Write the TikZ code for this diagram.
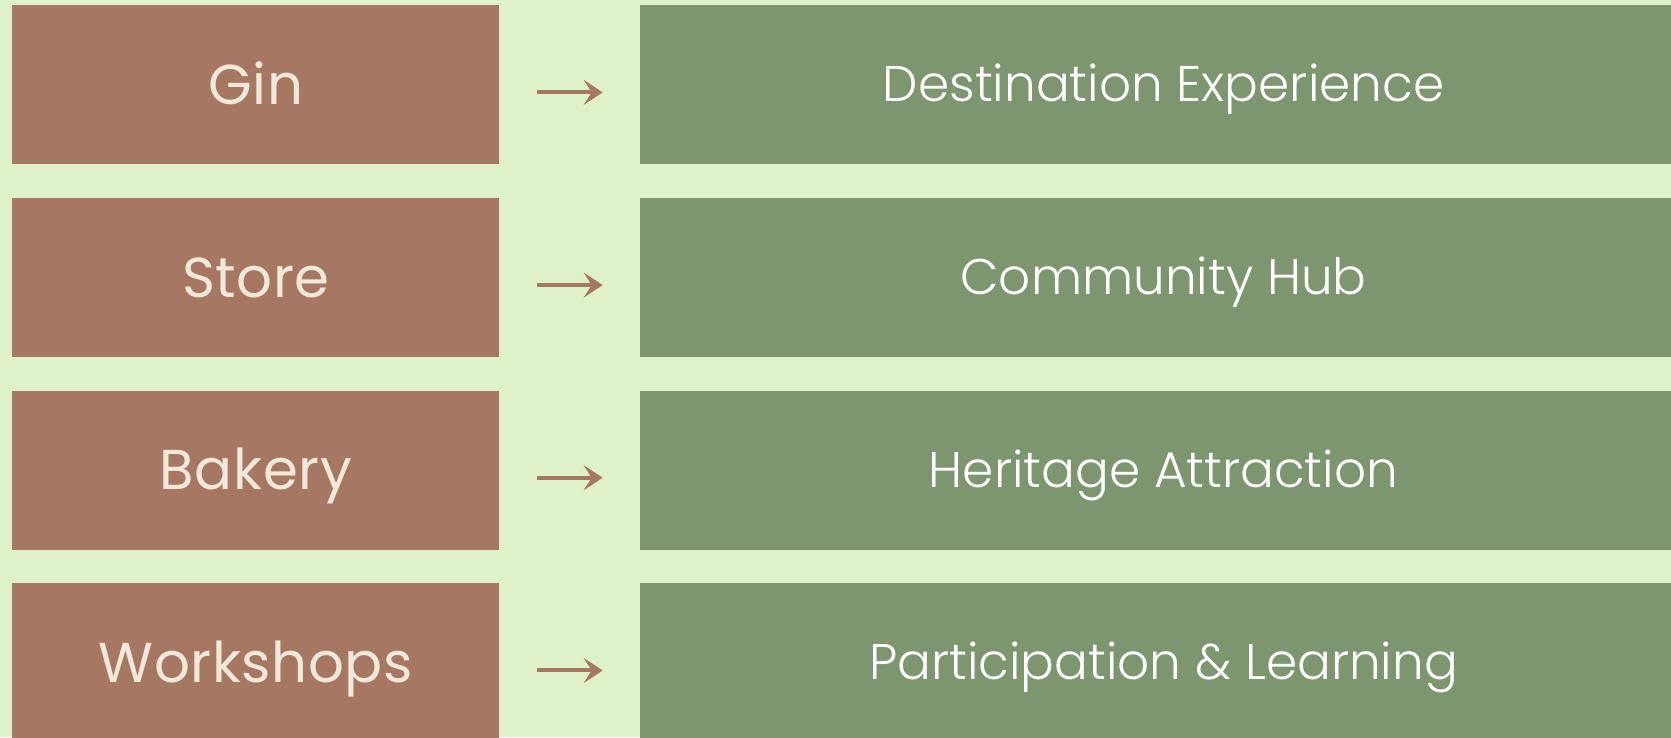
\documentclass[tikz,border=0pt]{standalone}
\usepackage{fontspec}
\setmainfont{Poppins}
\newfontfamily\lightfont{Poppins}[UprightFont=* Light]
\usepackage{xcolor}
\usepackage{tikz}
\usetikzlibrary{positioning,arrows.meta}

\definecolor{bgleaf}{HTML}{DFF1CB}
\definecolor{clay}{HTML}{A67863}
\definecolor{sage}{HTML}{7D966F}
\definecolor{cream}{HTML}{F2E8DA}

\begin{document}
\begin{tikzpicture}[src block/.style={fill=clay, minimum width=9.74cm, minimum height=3.18cm, inner sep=0pt, text height=0.78cm, text depth=0pt, text=cream, font=\addfontfeature{LetterSpace=1}\fontsize{32pt}{36pt}\selectfont},
    dst block/.style={fill=sage, minimum width=20.94cm, minimum height=3.18cm, inner sep=0pt, text height=0.68cm, text depth=0pt, text=white, font=\lightfont\fontsize{28.5pt}{32pt}\selectfont},
    link/.style={clay, line width=0.08cm, -{Stealth[length=0.38cm, width=0.5cm, inset=0.16cm]}},
    node distance=0.66cm]
    \fill[bgleaf] (0,0) rectangle (33.42,-14.74);
    \useasboundingbox (0,0) rectangle (33.42,-14.74);

    % products on the left
    \node[src block, anchor=north west] (gin) at (0.24,-0.1) {Gin};
    \node[src block, below=of gin] (store) {Store};
    \node[src block, below=of store] (bakery) {Bakery};
    \node[src block, below=of bakery] (work) {Workshops};

    % what each one becomes
    \node[dst block, right=2.8cm of gin] (dest) {Destination Experience};
    \node[dst block, right=2.8cm of store] (hub) {Community Hub};
    \node[dst block, right=2.8cm of bakery] (heri) {Heritage Attraction};
    \node[dst block, right=2.8cm of work] (part) {Participation \& Learning};

    \draw[link] ([xshift=0.74cm, yshift=-0.15cm]gin.east) -- ([xshift=-0.74cm, yshift=-0.15cm]dest.west);
    \draw[link] ([xshift=0.74cm, yshift=-0.15cm]store.east) -- ([xshift=-0.74cm, yshift=-0.15cm]hub.west);
    \draw[link] ([xshift=0.74cm, yshift=-0.15cm]bakery.east) -- ([xshift=-0.74cm, yshift=-0.15cm]heri.west);
    \draw[link] ([xshift=0.74cm, yshift=-0.15cm]work.east) -- ([xshift=-0.74cm, yshift=-0.15cm]part.west);
\end{tikzpicture}
\end{document}
